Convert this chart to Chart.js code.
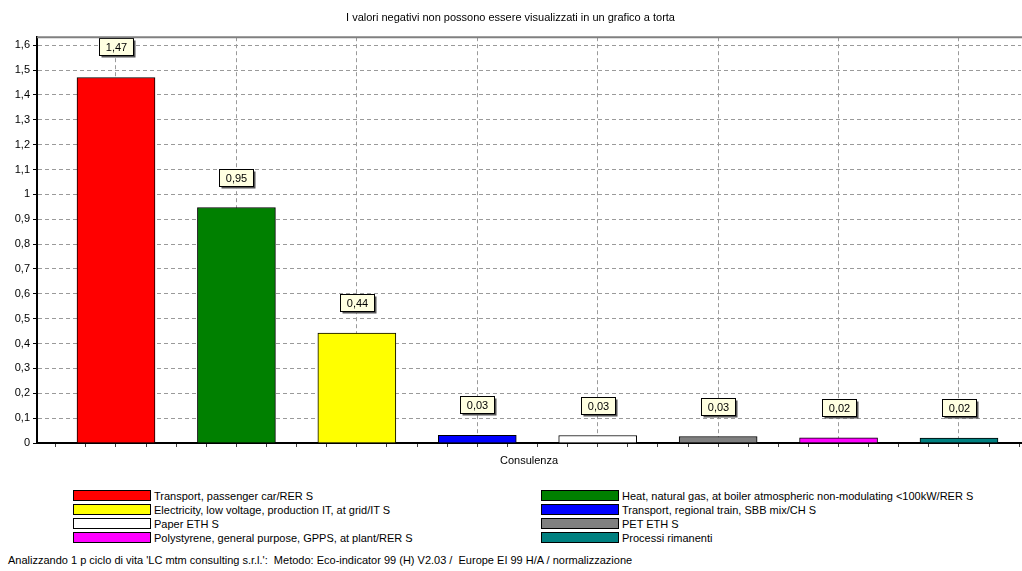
<!DOCTYPE html>
<html>
<head>
<meta charset="utf-8">
<script src="https://cdn.jsdelivr.net/npm/chart.js@4.4.0/dist/chart.umd.min.js"></script>
<style>
  body { margin: 0; background: #fff; width: 1022px; height: 571px; overflow: hidden; position: relative;
         font-family: "Liberation Sans", Arial, sans-serif; font-size: 11px; color: #000; }
  #grafico { position: absolute; left: 0; top: 0; }
  .leg { position: absolute; height: 14px; line-height: 14px; white-space: nowrap; }
  .sw { display: inline-block; width: 78px; height: 11px; border: 1px solid #000; box-sizing: border-box;
        vertical-align: -1px; margin-right: 3px; }
  #piede { position: absolute; left: 8px; top: 554px; white-space: nowrap; }
</style>
</head>
<body>
<canvas id="grafico" width="1022" height="475"></canvas>
<div id="legenda"></div>
<div id="piede">Analizzando 1 p ciclo di vita 'LC mtm consulting s.r.l.':&nbsp; Metodo: Eco-indicator 99 (H) V2.03 /&nbsp; Europe EI 99 H/A / normalizzazione</div>
<script>
// --- dati ---
const categorie = [
  'Transport, passenger car/RER S',
  'Heat, natural gas, at boiler atmospheric non-modulating <100kW/RER S',
  'Electricity, low voltage, production IT, at grid/IT S',
  'Transport, regional train, SBB mix/CH S',
  'Paper ETH S',
  'PET ETH S',
  'Polystyrene, general purpose, GPPS, at plant/RER S',
  'Processi rimanenti'
];
const valori = [1.47, 0.947, 0.442, 0.031, 0.030, 0.026, 0.021, 0.020];
const colori = ['#ff0000', '#008000', '#ffff00', '#0000ff', '#ffffff', '#808080', '#ff00ff', '#008080'];
const tickY = [0, 0.1, 0.2, 0.3, 0.4, 0.5, 0.6, 0.7, 0.8, 0.9, 1, 1.1, 1.2, 1.3, 1.4, 1.5, 1.6];
const titolo = 'I valori negativi non possono essere visualizzati in un grafico a torta';
const titoloAsse = 'Consulenza';

const FONT = '"Liberation Sans", Arial, sans-serif';
Chart.defaults.font.family = FONT;
Chart.defaults.font.size = 11;
Chart.defaults.color = '#000';

function formatta(v, dec) {
  return v.toFixed(dec).replace('.', ',');
}
function isMaggiore(v) {
  return Math.abs(v * 10 - Math.round(v * 10)) < 1e-6;
}

// --- legenda in HTML ---
const legenda = document.getElementById('legenda');
categorie.forEach((nome, i) => {
  const riga = document.createElement('div');
  riga.className = 'leg';
  riga.style.left = (i % 2 === 0 ? 73 : 541) + 'px';
  riga.style.top = (489 + Math.floor(i / 2) * 14) + 'px';
  const sw = document.createElement('span');
  sw.className = 'sw';
  sw.style.background = colori[i];
  riga.appendChild(sw);
  riga.appendChild(document.createTextNode(nome));
  legenda.appendChild(riga);
});

// etichette gialle sopra le barre
const etichettePlugin = {
  id: 'etichette',
  afterDatasetsDraw(chart) {
    const ctx = chart.ctx;
    const meta = chart.getDatasetMeta(0);
    ctx.save();
    ctx.font = '11px ' + FONT;
    ctx.textAlign = 'center';
    ctx.textBaseline = 'middle';
    meta.data.forEach((bar, i) => {
      const w = 34, h = 17;
      const x = Math.round(bar.x - w / 2) + 0.5;
      const y = Math.round(bar.y - 22 - h) + 0.5;
      ctx.fillStyle = '#555';
      ctx.fillRect(x + 2, y + 2, w, h);
      ctx.fillStyle = '#ffffe1';
      ctx.fillRect(x, y, w, h);
      ctx.strokeStyle = '#000';
      ctx.lineWidth = 1;
      ctx.strokeRect(x, y, w, h);
      ctx.fillStyle = '#000';
      ctx.fillText(formatta(valori[i], 2), x + w / 2, y + h / 2 + 0.5);
    });
    ctx.restore();
  }
};

// bordo superiore grigio dell'area
const bordoPlugin = {
  id: 'bordo',
  afterDraw(chart) {
    const { ctx, chartArea } = chart;
    ctx.save();
    ctx.strokeStyle = '#808080';
    ctx.lineWidth = 2;
    ctx.beginPath();
    ctx.moveTo(chartArea.left, chartArea.top);
    ctx.lineTo(chartArea.right + 1, chartArea.top);
    ctx.stroke();
    ctx.restore();
  }
};

new Chart(document.getElementById('grafico'), {
  type: 'bar',
  data: {
    datasets: [{
      data: valori.map((v, i) => ({ x: i + 1, y: v })),
      backgroundColor: colori,
      borderColor: '#000',
      borderWidth: 1,
      barThickness: 78
    }]
  },
  options: {
    responsive: false,
    animation: false,
    layout: { padding: { left: 0, right: 1, top: 0, bottom: 0 } },
    plugins: {
      legend: { display: false },
      tooltip: { enabled: false },
      title: {
        display: true,
        text: titolo,
        font: { size: 11, weight: 'normal' },
        color: '#000',
        padding: { top: 11, bottom: 13 }
      }
    },
    scales: {
      x: {
        type: 'linear',
        offset: false,
        min: 0.344,
        max: 8.515,
        afterBuildTicks(s) {
          const t = [];
          for (let k = 2; k <= 34; k++) t.push({ value: k / 4 });
          s.ticks = t;
        },
        afterFit(s) { s.height = 32; },
        ticks: { display: false },
        grid: {
          offset: false,
          color: c => (c.tick && Number.isInteger(c.tick.value)) ? '#9a9a9a' : 'rgba(0,0,0,0)',
          tickColor: '#404040',
          tickLength: 4,
          lineWidth: 1
        },
        border: { color: '#000', width: 2, dash: [4, 3] },
        title: {
          display: true,
          text: titoloAsse,
          font: { size: 11 },
          color: '#000',
          padding: { top: 0, bottom: 7 }
        }
      },
      y: {
        min: 0,
        max: 1.632,
        afterBuildTicks(s) {
          const t = [];
          tickY.forEach((v, i) => {
            t.push({ value: v });
            if (i < tickY.length - 1) t.push({ value: (v + tickY[i + 1]) / 2 });
          });
          s.ticks = t;
        },
        afterFit(s) { s.width = 37; },
        ticks: {
          padding: 3,
          callback: v => isMaggiore(v) ? String(Math.round(v * 10) / 10).replace('.', ',') : ''
        },
        grid: {
          color: c => (c.tick && isMaggiore(c.tick.value) && c.tick.value > 0) ? '#9a9a9a' : 'rgba(0,0,0,0)',
          tickColor: '#000',
          tickLength: 4,
          lineWidth: 1
        },
        border: { color: '#000', width: 2, dash: [4, 3] }
      }
    }
  },
  plugins: [etichettePlugin, bordoPlugin]
});
</script>
</body>
</html>
